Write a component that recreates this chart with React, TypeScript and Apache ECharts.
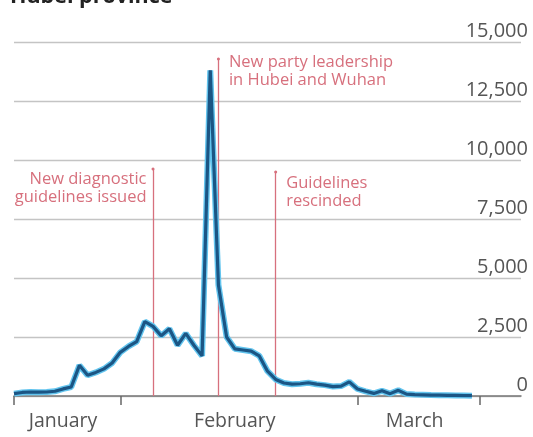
import React, { useEffect, useRef } from "react";
import * as echarts from "echarts";

const dates = [
  "Jan 19", "Jan 20", "Jan 21", "Jan 22", "Jan 23", "Jan 24", "Jan 25", "Jan 26", "Jan 27", "Jan 28",
  "Jan 29", "Jan 30", "Jan 31",
  "Feb 1", "Feb 2", "Feb 3", "Feb 4", "Feb 5", "Feb 6", "Feb 7", "Feb 8", "Feb 9", "Feb 10",
  "Feb 11", "Feb 12", "Feb 13", "Feb 14", "Feb 15", "Feb 16", "Feb 17", "Feb 18", "Feb 19", "Feb 20",
  "Feb 21", "Feb 22", "Feb 23", "Feb 24", "Feb 25", "Feb 26", "Feb 27", "Feb 28", "Feb 29",
  "Mar 1", "Mar 2", "Mar 3", "Mar 4", "Mar 5", "Mar 6", "Mar 7", "Mar 8", "Mar 9", "Mar 10",
  "Mar 11", "Mar 12", "Mar 13", "Mar 14", "Mar 15", "Mar 16", "Mar 17", "Mar 18", "Mar 19", "Mar 20",
  "Mar 21",
];

const newCases = [
  100, 150, 170, 160, 170, 200, 300, 380, 1300, 880,
  1000, 1150, 1400,
  1850, 2100, 2300, 3150, 2950, 2550, 2850, 2150, 2650, 2150,
  1700, 13800, 4700, 2500, 2000, 1950, 1900, 1700, 1050, 700,
  550, 500, 520, 560, 500, 460, 400, 420, 600,
  300, 200, 110, 220, 100, 240, 80, 60, 50, 40,
  35, 30, 25, 20, 15,
];

const tickDates = ["Jan 19", "Feb 1", "Mar 1", "Mar 16"];
const monthLabelDates = ["Jan 25", "Feb 15", "Mar 8"];
const monthNames = ["January", "February", "March"];

const yTicks = [0, 2500, 5000, 7500, 10000, 12500, 15000];

const eventDates = ["Feb 5", "Feb 13", "Feb 20"];
const eventTops = [9620, 14280, 9490];
const eventTexts = [
  "New diagnostic\nguidelines issued",
  "New party leadership\nin Hubei and Wuhan",
  "Guidelines\nrescinded",
];
const eventSides = ["left", "right", "right"];

const RED = "#d7707d";
const GREY_TEXT = "#555555";
const FONT = '"Open Sans", "Noto Sans", sans-serif';

export default function App() {
  const ref = useRef<HTMLDivElement>(null);

  useEffect(() => {
    if (!ref.current) return;
    const chart = echarts.init(ref.current, null, { renderer: "svg" });

    const markLineData = eventDates.map((d, i) => [
      { coord: [d, 0] },
      { coord: [d, eventTops[i]] },
    ]);

    const markPointData = eventDates.map((d, i) => ({
      coord: [d, eventTops[i]],
      label: {
        show: true,
        formatter: eventTexts[i],
        position: eventSides[i],
        distance: eventSides[i] === "left" ? 5 : 9,
        align: eventSides[i] === "left" ? "right" : "left",
        verticalAlign: "top",
        offset: i === 1 ? [0, -7] : [0, 0],
        color: RED,
        fontFamily: FONT,
        fontSize: 16.5,
        lineHeight: 18,
      },
    }));

    chart.setOption({
      animation: false,
      grid: { left: 14, right: 12, top: 42, bottom: 41 },
      graphic: [
        {
          type: "text",
          x: 10,
          y: 5,
          style: {
            text: "Hubei province",
            font: 'bold 21.5px "Open Sans", sans-serif',
            fill: "#222",
            verticalAlign: "bottom",
          },
        },
      ],
      xAxis: {
        type: "category",
        data: dates,
        boundaryGap: false,
        axisLine: { show: true, lineStyle: { color: "#777", width: 1.5 } },
        axisTick: {
          show: true,
          interval: (idx: number, val: string) => tickDates.includes(val),
          length: 9,
          lineStyle: { color: "#666", width: 1.5 },
        },
        axisLabel: {
          interval: (idx: number, val: string) => monthLabelDates.includes(val),
          formatter: (val: string) => {
            const k = monthLabelDates.indexOf(val);
            return k >= 0 ? monthNames[k] : "";
          },
          color: GREY_TEXT,
          fontFamily: FONT,
          fontSize: 19.5,
          margin: 13,
        },
        splitLine: { show: false },
      },
      yAxis: {
        type: "value",
        position: "right",
        min: yTicks[0],
        max: yTicks[yTicks.length - 1],
        interval: 2500,
        axisLine: { show: false },
        axisTick: { show: false },
        splitLine: { show: true, lineStyle: { color: "#c4c4c4", width: 1.3 } },
        axisLabel: {
          formatter: (v: number) => v.toLocaleString("en-US"),
          color: GREY_TEXT,
          fontFamily: FONT,
          fontSize: 20,
          align: "right",
          verticalAlign: "bottom",
          margin: 7,
          padding: [0, 0, 3, 0],
        },
      },
      series: [
        {
          type: "line",
          data: newCases,
          symbol: "none",
          silent: true,
          z: 2,
          lineStyle: { color: "#62c4ee", width: 6 },
        },
        {
          type: "line",
          data: newCases,
          symbol: "none",
          silent: true,
          z: 3,
          lineStyle: { color: "#1b5584", width: 3.2 },
          markLine: {
            silent: true,
            symbol: ["none", "none"],
            label: { show: false },
            lineStyle: { color: RED, width: 1.3, type: "solid" },
            data: markLineData,
            z: 1,
          },
          markPoint: {
            silent: true,
            symbol: "circle",
            symbolSize: 3,
            itemStyle: { color: RED },
            data: markPointData,
          },
        },
      ],
    });

    return () => chart.dispose();
  }, []);

  return (
    <div
      ref={ref}
      style={{ position: "fixed", left: 0, top: 0, width: 533, height: 437 }}
    />
  );
}
